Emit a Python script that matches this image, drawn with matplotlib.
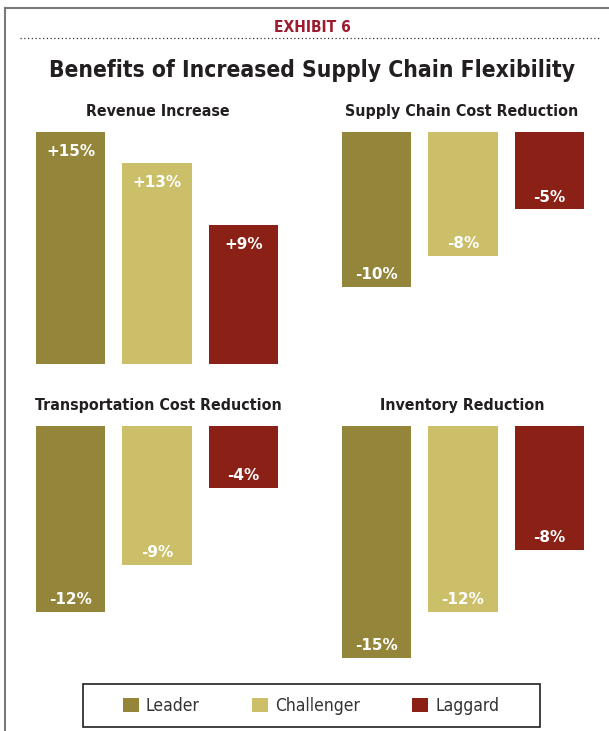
import matplotlib
matplotlib.use("Agg")
import matplotlib.pyplot as plt
from matplotlib.patches import Patch, Rectangle
from matplotlib.lines import Line2D

groups = ["Leader", "Challenger", "Laggard"]
colors = ["#93853a", "#cbc069", "#8b2016"]

titles = ["Revenue Increase", "Supply Chain Cost Reduction",
          "Transportation Cost Reduction", "Inventory Reduction"]
revenue = [15, 13, 9]
sc_cost = [-10, -8, -5]
transport = [-12, -9, -4]
inventory = [-15, -12, -8]
values = [revenue, sc_cost, transport, inventory]

W, H = 609, 731
cond = dict(family="DejaVu Sans", fontstretch="condensed")


def box(x0, y0, x1, y1):
    # pixel box (top-left origin) -> figure fraction
    return [x0 / W, 1 - y1 / H, (x1 - x0) / W, (y1 - y0) / H]


def fx(x):
    return x / W


def fy(y):
    return 1 - y / H


fig = plt.figure(figsize=(W / 100, H / 100), dpi=100)
renderer = fig.canvas.get_renderer()


def fit(texts, widths):
    # scale font size so that the texts span about the reference widths
    got = sum(t.get_window_extent(renderer).width for t in texts)
    k = sum(widths) / got
    for t in texts:
        t.set_fontsize(t.get_fontsize() * k)


# outer frame (left + top edges only visible)
fig.add_artist(Line2D([fx(5), fx(5)], [0, fy(8)], color="#7a7a7a", lw=1.5))
fig.add_artist(Line2D([fx(5), 1], [fy(8), fy(8)], color="#7a7a7a", lw=1.5))

ex = fig.text(fx(312), fy(32), "EXHIBIT 6", ha="center", va="baseline",
              weight="bold", fontsize=11, color="#9e1b2f", **cond)
fit([ex], [77])
fig.add_artist(Line2D([fx(20), fx(601)], [fy(38), fy(38)],
                      color="#333333", lw=0.9, linestyle=(0, (1, 2))))
mt = fig.text(fx(312), fy(77), "Benefits of Increased Supply Chain Flexibility",
              ha="center", va="baseline", weight="bold",
              fontsize=18, color="#231f20", **cond)
fit([mt], [527])

# panels: (left, top) in pixels; 242 px wide, 232 px tall (= 15 points)
origins = [(36, 132), (342, 132), (36, 426), (342, 426)]
title_pos = [(158, 116), (462, 116), (158, 410), (462, 410)]
title_w = [139, 235, 246, 163]

sub = []
for i, vals in enumerate(values):
    x0, y0 = origins[i]
    ax = fig.add_axes(box(x0, y0, x0 + 242, y0 + 232))
    pos = vals[0] > 0
    ax.bar(range(3), vals, width=0.8, color=colors)
    ax.set_xlim(-0.4, 2.4)
    ax.set_ylim((0, 15) if pos else (-15, 0))
    for j, v in enumerate(vals):
        off = -1.55 if pos else 0.5
        ax.text(j, v + off, f"{v:+d}%", ha="center", va="baseline",
                color="white", weight="bold", fontsize=11)
    ax.axis("off")
    tx, ty = title_pos[i]
    sub.append(fig.text(fx(tx), fy(ty), titles[i], ha="center", va="baseline",
                        weight="bold", fontsize=13, color="#231f20", **cond))
fit(sub, title_w)

# legend: frame drawn as a plain rectangle, entries via fig.legend
fig.add_artist(Rectangle((fx(83), fy(727)), fx(540) - fx(83), fy(684) - fy(727),
                         transform=fig.transFigure, fill=False,
                         edgecolor="#231f20", lw=1.2))
handles = [Patch(facecolor=c, edgecolor="none") for c in colors]
leg = fig.legend(handles, groups, loc="center", ncol=3,
                 bbox_to_anchor=(fx(311), fy(706)), frameon=False,
                 prop={"family": "DejaVu Sans", "stretch": "condensed", "size": 12.5},
                 handlelength=0.92, handleheight=0.92, handletextpad=0.42,
                 columnspacing=3.0, borderpad=0)
for t in leg.get_texts():
    t.set_color("#333333")

fig.savefig("out.png", dpi=100)
